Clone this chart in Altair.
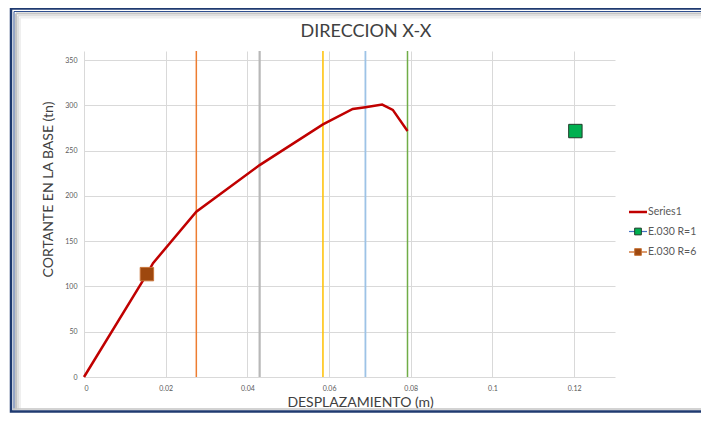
import altair as alt
import pandas as pd

# ---- data ----
curve_x = [0.0, 0.0154, 0.0169, 0.0275, 0.0430, 0.0585, 0.0658, 0.0689, 0.0730, 0.0756, 0.0792]
curve_y = [0.0, 113.6, 125.7, 182.6, 234.0, 279.0, 296.0, 298.0, 300.8, 295.0, 271.6]

perf_x = [0.0275, 0.0430, 0.0585, 0.0689, 0.0792]
perf_colors = ["#ED7D31", "#B8B8B8", "#FFC000", "#9DC3E6", "#70AD47"]
perf_widths = [1.5, 2.2, 1.5, 1.8, 1.5]

r1_x = [0.1203]
r1_y = [271.6]
r6_x = [0.0154]
r6_y = [113.6]

chart_title = "DIRECCION X-X"
series_names = ["Series1", "E.030 R=1", "E.030 R=6"]
x_ticks = [0, 0.02, 0.04, 0.06, 0.08, 0.1, 0.12]
y_ticks = [0, 50, 100, 150, 200, 250, 300, 350]

W, H = 531, 326
FONT = "Lato"

curve_df = pd.DataFrame({"x": curve_x, "y": curve_y})
perf_df = pd.DataFrame({"x": perf_x, "c": perf_colors, "w": perf_widths})
r1_df = pd.DataFrame({"x": r1_x, "y": r1_y})
r6_df = pd.DataFrame({"x": r6_x, "y": r6_y})

xscale = alt.Scale(domain=[0, 0.13], nice=False, zero=True)
yscale = alt.Scale(domain=[0, 360], nice=False, zero=True)

x_axis = alt.Axis(values=x_ticks, format="~g", title="DESPLAZAMIENTO (m)",
                  titleX=276, titleY=29, titleBaseline="alphabetic", titleAlign="center",
                  labelPadding=7)
y_axis = alt.Axis(values=y_ticks, title="CORTANTE EN LA BASE (tn)",
                  titleX=-32, titleY=138, titleBaseline="alphabetic", titleAlign="center",
                  titleAngle=-90, labelPadding=7)

one = curve_df.head(1)

# frame around the whole chart (decoration); right side runs past the window
L, T, R, B = -73, -42.5, 640, 360.5
frame_layers = [
    alt.Chart(one).mark_rect(fillOpacity=0, stroke="#1F3A70", strokeWidth=2.5).encode(
        x=alt.value(L), x2=alt.value(R), y=alt.value(T), y2=alt.value(B)),
]
inner = [(3, "#2F4F8F", 1.0), (5, "#C4C4C4", 2.0), (7, "#DEDEDE", 2.0), (9, "#EFEFEF", 2.0)]
for off, col, sw in inner:
    frame_layers.append(alt.Chart(one).mark_rule(color=col, strokeWidth=sw).encode(
        x=alt.value(L + off), x2=alt.value(R), y=alt.value(T + off)))
    frame_layers.append(alt.Chart(one).mark_rule(color=col, strokeWidth=sw).encode(
        x=alt.value(L + off), y=alt.value(T + off), y2=alt.value(B - 2)))
frame_layers.append(alt.Chart(one).mark_rule(color="#C4C4C4", strokeWidth=1.5).encode(
    x=alt.value(L + 2), x2=alt.value(R), y=alt.value(B - 2.5)))

title_mark = alt.Chart(pd.DataFrame({"t": [chart_title]})).mark_text(
    align="center", baseline="alphabetic", font=FONT, fontSize=18, color="#404040").encode(
    x=alt.value(282), y=alt.value(-14.5), text="t:N")

rules = alt.Chart(perf_df).mark_rule().encode(
    x=alt.X("x:Q", scale=xscale, axis=x_axis),
    color=alt.Color("c:N", scale=None),
    strokeWidth=alt.StrokeWidth("w:Q", scale=None),
)

line = alt.Chart(curve_df).mark_line(color="#C00000", strokeWidth=2.5).encode(
    x=alt.X("x:Q", scale=xscale, axis=x_axis),
    y=alt.Y("y:Q", scale=yscale, axis=y_axis),
)

pts_r1 = alt.Chart(r1_df).mark_point(shape="square", filled=True, size=180, fill="#00B050",
                                     stroke="#1F3B2A", strokeWidth=1, opacity=1).encode(
    x=alt.X("x:Q", scale=xscale), y=alt.Y("y:Q", scale=yscale))
pts_r6 = alt.Chart(r6_df).mark_point(shape="square", filled=True, size=180, fill="#9E480E",
                                     stroke="#C8753A", strokeWidth=1, opacity=1).encode(
    x=alt.X("x:Q", scale=xscale), y=alt.Y("y:Q", scale=yscale))

# manual legend (decoration layout)
leg = []
leg_y = [161, 180.5, 201]
line_cols = ["#C00000", "#4472C4", "#C55A11"]
sq_cols = [None, "#00B050", "#9E480E"]
sq_strokes = [None, "#1F3B2A", "#C8753A"]
lx0, lx1, tx = 545, 563, 564
for i, name in enumerate(series_names):
    yy = leg_y[i]
    leg.append(alt.Chart(one).mark_rule(color=line_cols[i], strokeWidth=2.5 if i == 0 else 1.2).encode(
        x=alt.value(lx0), x2=alt.value(lx1), y=alt.value(yy)))
    if sq_cols[i]:
        leg.append(alt.Chart(one).mark_point(shape="square", filled=True, size=45, fill=sq_cols[i],
                                             stroke=sq_strokes[i], strokeWidth=1, opacity=1).encode(
            x=alt.value((lx0 + lx1) / 2), y=alt.value(yy)))
    leg.append(alt.Chart(pd.DataFrame({"t": [name]})).mark_text(
        align="left", baseline="middle", font=FONT, fontSize=10.5, color="#595959").encode(
        x=alt.value(tx), y=alt.value(yy), text="t:N"))

chart = alt.layer(*frame_layers, title_mark, rules, line, pts_r1, pts_r6, *leg).properties(
    width=W, height=H,
    padding={"left": 76, "top": 43, "right": 86, "bottom": 36},
    autosize=alt.AutoSizeParams(type="none"),
).configure_view(strokeWidth=0).configure_axis(
    grid=True, gridColor="#D9D9D9", gridWidth=1, ticks=False, domain=False,
    labelFont=FONT, labelFontSize=7, labelColor="#595959",
    titleFont=FONT, titleFontSize=14, titleFontWeight="normal", titleColor="#404040",
)

chart.save("out.html", embed_options={"renderer": "svg", "actions": False})
